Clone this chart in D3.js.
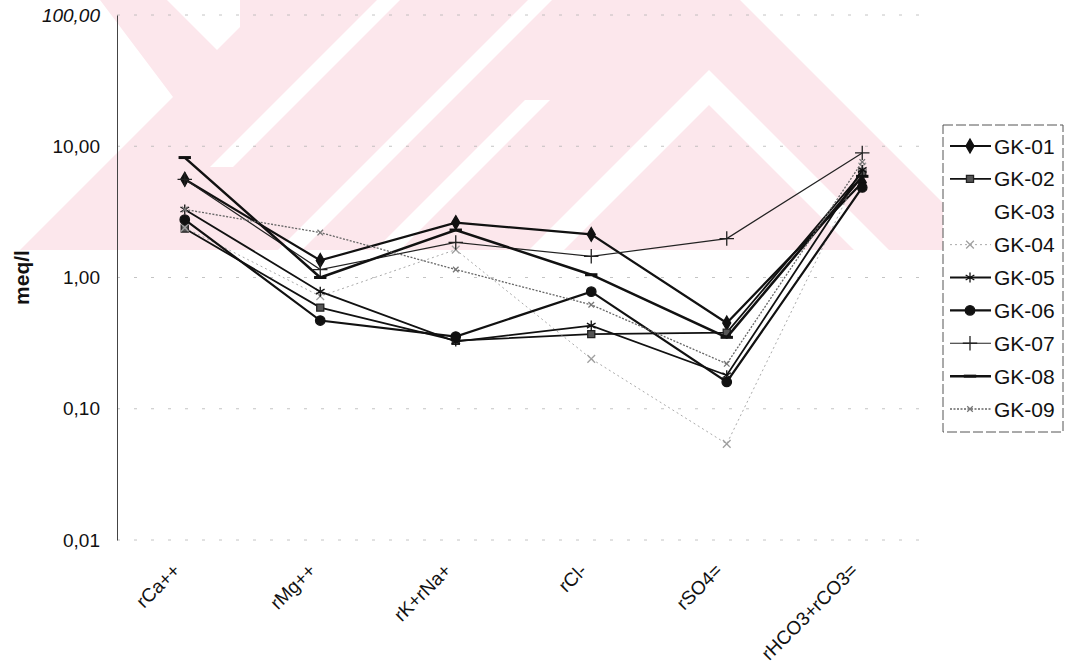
<!DOCTYPE html>
<html>
<head>
<meta charset="utf-8">
<script src="https://cdn.jsdelivr.net/npm/d3@7"></script>
<style>
  html, body { margin: 0; padding: 0; background: #fff; }
  svg { display: block; font-family: Arial, "Liberation Sans", sans-serif; }
</style>
</head>
<body>
<svg id="chart" width="1068" height="665"></svg>
<script>
// ---------------- data ----------------
const categories = ["rCa++", "rMg++", "rK+rNa+", "rCl-", "rSO4=", "rHCO3+rCO3="];
const yTickValues = [0.01, 0.1, 1, 10, 100];
const yTickLabels = ["0,01", "0,10", "1,00", "10,00", "100,00"];
const seriesNames = ["GK-01", "GK-02", "GK-03", "GK-04", "GK-05", "GK-06", "GK-07", "GK-08", "GK-09"];

const gk01 = [5.6, 1.35, 2.62, 2.13, 0.45, 5.3];
const gk02 = [2.36, 0.59, 0.33, 0.37, 0.38, 6.3];
const gk03 = [];                      // drawn invisibly (white) in the original
const gk04 = [2.4, 0.72, 1.63, 0.24, 0.054, 7.0];
const gk05 = [3.3, 0.78, 0.325, 0.43, 0.18, 6.6];
const gk06 = [2.76, 0.47, 0.355, 0.78, 0.16, 4.85];
const gk07 = [5.6, 1.15, 1.85, 1.45, 1.98, 8.9];
const gk08 = [8.2, 1.0, 2.3, 1.05, 0.35, 5.9];
const gk09 = [3.3, 2.2, 1.15, 0.62, 0.22, 7.6];

const seriesValues = [gk01, gk02, gk03, gk04, gk05, gk06, gk07, gk08, gk09];

// ---------------- styles ----------------
const dashSymbol = { draw(ctx, size) { const w = Math.sqrt(size) * 0.8; ctx.moveTo(-w, -1.5); ctx.lineTo(w, -1.5); ctx.lineTo(w, 1.5); ctx.lineTo(-w, 1.5); ctx.closePath(); } };
const styles = {
  "GK-01": { stroke: "#111", width: 2.2, dash: null, sym: d3.symbolDiamond, size: 55, fill: "#111", mstroke: "#111" },
  "GK-02": { stroke: "#111", width: 1.8, dash: null, sym: d3.symbolSquare, size: 50, fill: "#555", mstroke: "#222" },
  "GK-03": { stroke: "none", width: 0, dash: null, sym: null },
  "GK-04": { stroke: "#aaaaaa", width: 1, dash: "2,3", sym: d3.symbolTimes, size: 40, fill: "none", mstroke: "#a0a0a0" },
  "GK-05": { stroke: "#111", width: 1.8, dash: null, sym: d3.symbolAsterisk, size: 70, fill: "none", mstroke: "#111" },
  "GK-06": { stroke: "#111", width: 2.2, dash: null, sym: d3.symbolCircle, size: 70, fill: "#111", mstroke: "#111" },
  "GK-07": { stroke: "#222", width: 1.2, dash: null, sym: d3.symbolPlus, size: 70, fill: "none", mstroke: "#222" },
  "GK-08": { stroke: "#111", width: 2.5, dash: null, sym: dashSymbol, size: 60, fill: "#111", mstroke: "none" },
  "GK-09": { stroke: "#666", width: 1.3, dash: "2,1.5", sym: d3.symbolTimes, size: 22, fill: "none", mstroke: "#777" }
};

// background watermark (decorative, not data)
const wmPink = [[100,0],[740,0],[990,250],[20,250],[173,97]];
const wmWhite = [
  [[167,0],[240,0],[240,27],[217,50]],
  [[377,0],[400,0],[233,167],[210,167]],
  [[528,0],[552,0],[302,250],[278,250]],
  [[525,100],[550,100],[400,250],[375,250]],
  [[709,70],[889,250],[854,250],[709,105],[564,250],[529,250]]
];

// ---------------- chart ----------------
const svg = d3.select("#chart");
const plot = { left: 117, right: 930, top: 15, bottom: 540 };

const wm = svg.append("g");
wm.append("polygon").attr("points", wmPink.map(p => p.join(",")).join(" ")).attr("fill", "#fce7ec");
wmWhite.forEach(poly => wm.append("polygon").attr("points", poly.map(p => p.join(",")).join(" ")).attr("fill", "#fff"));

const x = d3.scaleBand().domain(categories).range([plot.left, plot.right]).padding(0);
const cx = c => x(c) + x.bandwidth() / 2;
const y = d3.scaleLog().domain([0.01, 100]).range([plot.bottom, plot.top]);

// gridlines (faint, broken as in the scan)
svg.append("g").selectAll("line").data(yTickValues).join("line")
  .attr("x1", plot.left).attr("x2", plot.right)
  .attr("y1", d => y(d)).attr("y2", d => y(d))
  .attr("stroke", "#b5b5b5").attr("stroke-width", 0.8)
  .attr("stroke-dasharray", "3,14");

// y axis
const yAxis = d3.axisLeft(y).tickValues(yTickValues)
  .tickFormat((d, i) => yTickLabels[i]).tickSize(0).tickPadding(17);
const gy = svg.append("g").attr("transform", `translate(${plot.left},0)`).call(yAxis);
gy.select(".domain").attr("stroke", "#444").attr("stroke-width", 1);
gy.selectAll("text").attr("font-size", 19).attr("fill", "#111")
  .attr("font-family", "Arial, 'Liberation Sans', sans-serif")
  .attr("font-style", (d) => d === 100 ? "italic" : "normal");

// y title
svg.append("text").attr("transform", `translate(29,${(y(1))}) rotate(-90)`)
  .attr("text-anchor", "middle").attr("font-size", 21).attr("font-weight", "bold")
  .attr("fill", "#111").text("meq/l");

// x axis labels
const xAxis = d3.axisBottom(x).tickSize(0).tickPadding(0);
const gx = svg.append("g").attr("transform", `translate(0,${plot.bottom + 22})`).call(xAxis);
gx.select(".domain").remove();
gx.selectAll("text").attr("font-size", 19).attr("fill", "#111")
  .attr("font-family", "Arial, 'Liberation Sans', sans-serif")
  .attr("text-anchor", "end").attr("dy", "0.35em")
  .attr("transform", "translate(-8,5) rotate(-45)");

// series
const line = d3.line().x((d, i) => cx(categories[i])).y(d => y(d));
const gs = svg.append("g");
seriesNames.forEach((name, si) => {
  const vals = seriesValues[si];
  const st = styles[name];
  if (!vals.length || st.stroke === "none") return;
  const g = gs.append("g");
  g.append("path").datum(vals).attr("d", line)
    .attr("fill", "none").attr("stroke", st.stroke).attr("stroke-width", st.width)
    .attr("stroke-dasharray", st.dash).attr("stroke-linejoin", "miter");
  g.selectAll("path.m").data(vals).join("path").attr("class", "m")
    .attr("transform", (d, i) => `translate(${cx(categories[i])},${y(d)})`)
    .attr("d", d3.symbol().type(st.sym).size(st.size))
    .attr("fill", st.fill).attr("stroke", st.mstroke).attr("stroke-width", 1.3);
});

// legend
const lg = svg.append("g");
lg.append("rect").attr("x", 943).attr("y", 125).attr("width", 120).attr("height", 307)
  .attr("fill", "#fff").attr("stroke", "#555").attr("stroke-width", 1).attr("stroke-dasharray", "10,3");
const ly = d3.scalePoint().domain(seriesNames).range([146, 409]);
seriesNames.forEach(name => {
  const st = styles[name];
  const yy = ly(name);
  if (st.stroke !== "none") {
    lg.append("line").attr("x1", 950).attr("x2", 991).attr("y1", yy).attr("y2", yy)
      .attr("stroke", st.stroke).attr("stroke-width", st.width).attr("stroke-dasharray", st.dash);
    lg.append("path").attr("transform", `translate(970,${yy})`)
      .attr("d", d3.symbol().type(st.sym).size(st.size))
      .attr("fill", st.fill).attr("stroke", st.mstroke).attr("stroke-width", 1.3);
  }
  lg.append("text").attr("x", 994).attr("y", yy).attr("dy", "0.36em")
    .attr("font-size", 21).attr("fill", "#111").text(name);
});
</script>
</body>
</html>
